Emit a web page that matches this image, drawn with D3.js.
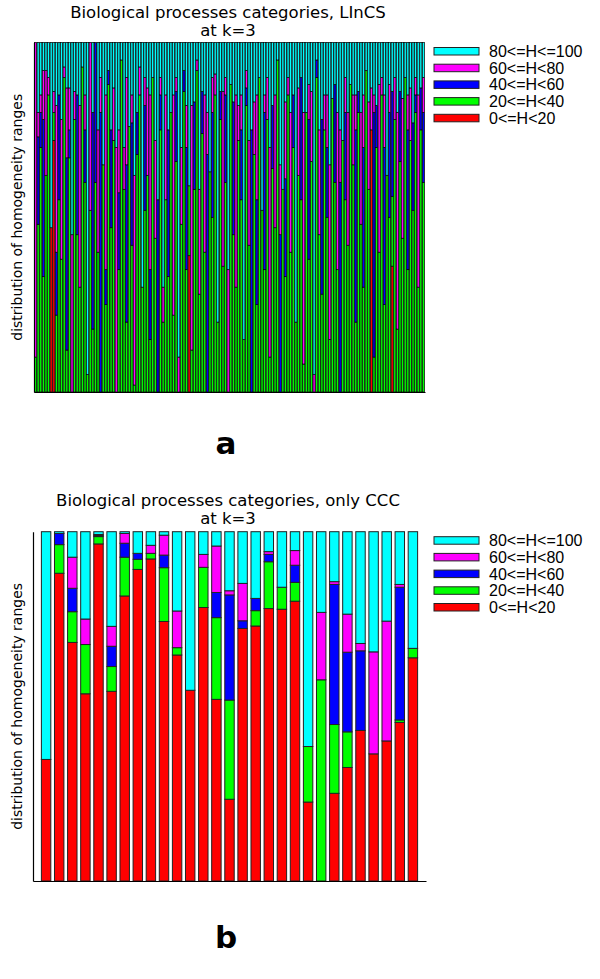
<!DOCTYPE html>
<html><head><meta charset="utf-8">
<script src="https://cdn.jsdelivr.net/npm/d3@7"></script>
<style>body{margin:0;background:#fff}svg{display:block}text{font-family:"DejaVu Sans",sans-serif}</style>
</head><body><svg id="c" width="600" height="979"></svg>
<script>
// ---------- DATA ----------
const rangeKeys = ["0<=H<20","20<=H<40","40<=H<60","60<=H<80","80<=H<=100"];
const legendOrder = ["80<=H<=100","60<=H<80","40<=H<60","20<=H<40","0<=H<20"];
const rangeColors = ["#ff0000","#00ff00","#0000ff","#ff00ff","#00ffff"];

// Panel b: only CCC (29 categories)
const cccRed     = [34.8,88.1,68.3,53.6,96.5,54.3,81.6,89.2,92.2,74.3,64.7,54.6,78.3,52.0,23.4,72.3,73.0,78.0,77.8,80.1,22.6,0,25.1,32.5,43.1,36.4,40.1,45.4,63.9];
const cccGreen   = [0,8.2,8.8,14.1,2.1,7.1,11.1,2.9,1.6,15.4,2.1,0,11.5,23.4,28.4,0,4.4,13.4,6.3,5.4,15.9,57.6,19.7,10.2,0,0,0,0.7,2.7];
const cccBlue    = [0,3.2,6.7,0,0.3,5.8,4.0,1.7,0,3.6,0,0,0,7.2,30.1,2.2,3.5,2.1,0,4.9,0,0,40.1,22.8,22.8,0,0,38.0,0];
const cccMagenta = [0,0,8.9,7.3,0.3,5.7,2.8,0,2.3,5.7,10.5,0,3.7,13.3,1.2,10.7,0,0.8,0,4.2,0,19.3,0.8,10.9,2.1,29.2,34.3,0.8,0];
const cccCyan    = [65.2,0.5,7.3,25.0,0.8,27.1,0.5,6.2,3.9,1.0,22.7,45.4,6.5,4.1,16.9,14.8,19.1,5.7,15.9,5.4,61.5,23.1,14.3,23.6,32.0,34.4,25.6,15.1,33.4];

// Panel a: LInCS (150 categories)
const lincsRed = [
  0,0,0,0,0,0,47,72,0,0,  0,0,0,0,0,0,0,0,0,0,  0,0,0,0,0,0,0,0,0,0,
  0,0,0,0,0,0,0,0,0,0,  0,0,0,0,0,0,0,0,0,0,  0,0,0,0,0,0,0,0,0,39,
  0,0,0,0,0,0,0,0,0,0,  0,0,0,0,0,0,0,0,0,0,  0,0,0,0,0,0,0,0,0,0,
  0,0,0,0,0,0,0,0,0,0,  0,0,0,0,0,0,0,0,0,0,  0,0,0,0,0,0,0,0,0,0,
  0,0,0,0,0,0,0,0,0,75,  0,0,0,0,0,0,0,36,0,0,  0,0,0,0,0,0,0,0,0,0];
const lincsGreen = [
  10,48,70,33,62,85,0,8,22,55,  38,90,12,67,0,78,45,30,93,60,  5,52,18,60,40,0,65,25,88,47,
  72,0,35,95,58,20,76,42,2,68,  85,30,52,62,15,90,44,0,75,20,  55,33,80,22,66,0,48,86,35,20,
  12,58,92,28,74,40,0,63,50,85,  20,78,36,60,0,88,45,30,72,55,  15,82,42,0,68,25,90,52,35,78,
  10,64,47,95,0,58,33,85,40,70,  20,62,55,8,80,38,66,0,90,45,  28,75,50,15,84,60,35,0,72,55,
  42,88,65,20,80,48,30,92,58,0,  10,70,40,85,25,62,50,20,78,18,  66,44,90,35,72,52,80,30,75,60];
const lincsBlue = [
  0,25,10,45,0,0,0,0,18,30,  0,0,55,8,0,0,40,0,0,15,  0,0,62,40,0,80,0,10,4,28,
  0,0,22,0,0,45,0,35,0,12,  0,0,30,0,20,0,0,55,10,0,  0,42,0,0,20,0,0,6,35,0,
  0,25,0,0,12,0,68,0,30,0,  0,8,0,25,0,0,38,0,0,20,  0,5,0,75,0,30,0,0,45,0,
  0,18,0,0,45,0,28,0,0,15,  0,0,35,0,0,40,0,0,5,0,  50,0,20,0,0,28,0,60,0,25,
  0,0,0,55,6,0,40,0,0,0,  70,12,0,0,45,0,30,30,0,0,  20,0,0,40,0,25,5,0,12,20];
const lincsMagenta = [
  90,7,5,14,30,5,0,6,42,0,  40,3,20,12,45,8,0,52,0,10,  0,48,0,0,35,10,0,50,0,0,
  15,70,18,0,12,25,0,8,60,0,  8,0,8,25,50,0,28,0,5,10,  30,0,0,63,4,10,22,0,12,0,
  70,0,3,30,0,45,12,0,10,6,  0,0,50,5,35,0,0,55,10,10,  0,5,30,0,15,30,0,0,5,12,
  60,0,38,0,20,0,22,5,40,0,  0,25,0,72,0,10,20,5,0,30,  0,10,15,50,0,0,45,15,0,10,
  38,0,20,10,0,32,15,0,25,12,  5,0,48,5,15,0,8,0,12,62,  0,40,0,10,15,0,5,55,0,10];
const lincsCyan = [
  0,20,15,8,8,10,53,14,18,15,  22,7,13,13,55,14,15,18,7,15,  95,0,20,0,25,10,35,15,8,25,
  13,30,25,5,30,10,24,15,38,20,  7,70,10,13,15,10,28,45,10,70,  15,25,20,15,10,90,30,8,18,41,
  18,17,5,42,14,15,20,37,10,9,  80,14,14,10,65,12,17,15,18,15,  85,8,28,25,17,15,10,48,15,10,
  30,18,15,5,35,42,17,10,20,15,  80,13,10,20,20,12,14,95,5,25,  22,15,15,35,16,12,20,25,28,10,
  20,12,15,15,14,20,15,8,17,13,  15,18,12,10,15,38,12,14,10,20,  14,16,10,15,13,23,10,15,13,10];

// ---------- DRAW ----------
const svg = d3.select("#c");
const keys = rangeKeys;
const colorOf = d3.scaleOrdinal().domain(rangeKeys).range(rangeColors);

function rowsOf(r,g,b,m,c){
  return r.map((_,i)=>({idx:i,[keys[0]]:r[i],[keys[1]]:g[i],[keys[2]]:b[i],[keys[3]]:m[i],[keys[4]]:c[i]}));
}

function panel(opt){
  const {rows, x0, x1, yTop, yBot, xDomain, barFrac, stroke, strokeW, title1, title2, titleY, letter, letterY} = opt;
  const g = svg.append("g");
  const x = d3.scaleLinear().domain(xDomain).range([x0, x1]);
  const y = d3.scaleLinear().domain([0,100]).range([yBot, yTop]);
  const stack = d3.stack().keys(keys)(rows);
  const w = (x(1)-x(0))*barFrac;
  g.selectAll("g.s").data(stack).join("g").attr("class","s")
    .attr("fill", d=>colorOf(d.key))
    .selectAll("rect").data(d=>d.filter(p=>p[1]-p[0]>0)).join("rect")
    .attr("x", d=>x(d.data.idx)-w/2).attr("width", w)
    .attr("y", d=>y(d[1])).attr("height", d=>y(d[0])-y(d[1]))
    .attr("stroke", stroke).attr("stroke-width", strokeW);
  const ax = d3.axisLeft(y).tickValues([]).tickSize(0);
  g.append("g").attr("transform",`translate(${x0},0)`).call(ax)
    .select(".domain").attr("stroke","#000").attr("stroke-width",1.2);
  const bx = d3.axisBottom(x).tickValues([]).tickSize(0);
  g.append("g").attr("transform",`translate(0,${yBot})`).call(bx)
    .select(".domain").attr("stroke","#000").attr("stroke-width",1.2);
  g.append("text").attr("x",228).attr("y",titleY).attr("text-anchor","middle")
    .attr("font-size",16.5).text(title1);
  g.append("text").attr("x",228).attr("y",titleY+17.5).attr("text-anchor","middle")
    .attr("font-size",16.5).text(title2);
  g.append("text").attr("transform",`translate(22,${(yTop+yBot)/2}) rotate(-90)`)
    .attr("text-anchor","middle").attr("font-size",14).text("distribution of homogeneity ranges");
  g.append("text").attr("x",226).attr("y",letterY).attr("text-anchor","middle")
    .attr("font-size",31).attr("font-weight","bold").text(letter);
  const lg = g.append("g").attr("transform",`translate(434,${yTop+5})`);
  legendOrder.forEach((k,i)=>{
    lg.append("rect").attr("x",0).attr("y",i*16.7).attr("width",45).attr("height",7.5)
      .attr("fill",colorOf(k)).attr("stroke","#222").attr("stroke-width",1);
    lg.append("text").attr("x",55).attr("y",i*16.7+9.5).attr("font-size",16)
      .style("font-family","'Liberation Sans',Arial,sans-serif").text(k);
  });
}

panel({rows: rowsOf(lincsRed,lincsGreen,lincsBlue,lincsMagenta,lincsCyan),
  x0:34, x1:425, yTop:42.5, yBot:392, xDomain:[-0.6, lincsRed.length-0.4], barFrac:0.8,
  stroke:"#000", strokeW:0.7,
  title1:"Biological processes categories, LInCS", title2:"at k=3", titleY:18, letter:"a", letterY:454});

panel({rows: rowsOf(cccRed,cccGreen,cccBlue,cccMagenta,cccCyan),
  x0:33, x1:426, yTop:531.7, yBot:881, xDomain:[-1, cccRed.length], barFrac:0.72,
  stroke:"#222", strokeW:1,
  title1:"Biological processes categories, only CCC", title2:"at k=3", titleY:506, letter:"b", letterY:948});
</script></body></html>
